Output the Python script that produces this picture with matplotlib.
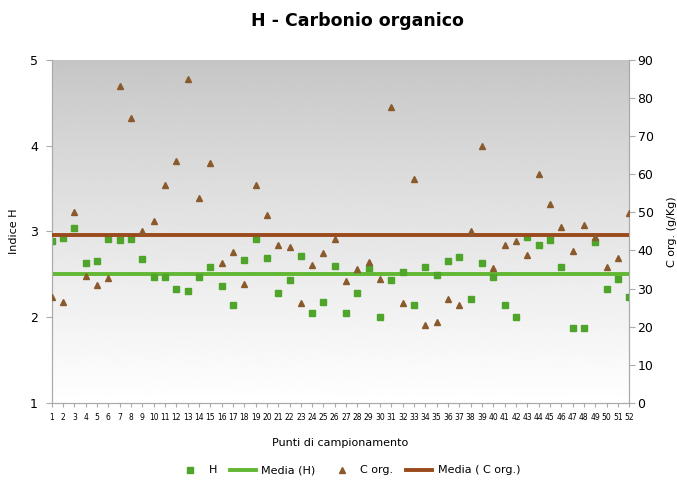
import numpy as np
import matplotlib
matplotlib.use("Agg")
import matplotlib.pyplot as plt

# sampling points 1..52
punti = list(range(1, 53))

indice_h = [2.89, 2.92, 3.04, 2.63, 2.65, 2.91, 2.90, 2.91, 2.68, 2.47,
            2.47, 2.33, 2.31, 2.47, 2.58, 2.36, 2.14, 2.67, 2.91, 2.69,
            2.28, 2.43, 2.71, 2.05, 2.18, 2.60, 2.05, 2.28, 2.57, 2.00,
            2.43, 2.53, 2.14, 2.58, 2.49, 2.66, 2.70, 2.21, 2.63, 2.47,
            2.14, 2.00, 2.93, 2.84, 2.90, 2.59, 1.87, 1.87, 2.88, 2.33,
            2.45, 2.24]

c_org = [27.7, 26.4, 50.2, 33.2, 30.9, 32.7, 83.2, 74.8, 45.0, 47.6,
         57.2, 63.5, 85.0, 53.7, 62.9, 36.8, 39.7, 31.3, 57.2, 49.2,
         41.5, 40.8, 26.3, 36.2, 39.4, 43.1, 31.9, 35.1, 36.9, 32.5,
         77.6, 26.2, 58.7, 20.5, 21.3, 27.2, 25.7, 45.0, 67.5, 35.3,
         41.5, 42.5, 38.7, 60.1, 52.2, 46.1, 39.9, 46.6, 43.4, 35.7,
         38.0, 49.8]

media_h = np.mean(indice_h)
media_c = np.mean(c_org)

sq_green = "#4ea52a"
line_green = "#62b832"
tri_brown = "#8a5a2c"
line_brown = "#9a4a1c"

fig = plt.figure(figsize=(6.77, 4.83), dpi=100)
ax = fig.add_axes([0.0764, 0.166, 0.853, 0.710])
ax2 = ax.twinx()

# gray-to-white gradient background
grad = np.linspace(0, 1, 256).reshape(-1, 1)
grad = 0.77 + 0.23 * grad ** 0.85
ax.imshow(grad, extent=[0, 1, 0, 1], transform=ax.transAxes, cmap="gray",
          vmin=0, vmax=1, aspect="auto", origin="upper", zorder=0)

ax.set_xlim(1, 52)
ax.set_ylim(1, 5)
ax2.set_ylim(0, 90)

h_pts, = ax.plot(punti, indice_h, "s", color=sq_green, markersize=4.8, zorder=4)
h_line = ax.axhline(media_h, color=line_green, linewidth=2.8, zorder=3)
c_pts, = ax2.plot(punti, c_org, "^", color=tri_brown, markersize=4.8, zorder=4)
c_line = ax2.axhline(media_c, color=line_brown, linewidth=2.8, zorder=3)

ax.set_xticks(punti)
ax.set_xticklabels([str(p) for p in punti], fontsize=5.5)
ax.set_yticks([1, 2, 3, 4, 5])
ax2.set_yticks(range(0, 91, 10))
ax.tick_params(axis="y", labelsize=9, length=4, color="#aaaaaa", pad=6)
ax2.tick_params(axis="y", labelsize=9, length=4, color="#aaaaaa", pad=2)
ax.tick_params(axis="x", length=3, color="#aaaaaa", pad=4)

for a in (ax, ax2):
    a.spines["top"].set_visible(False)
    for side in ("left", "right", "bottom"):
        a.spines[side].set_color("#aaaaaa")

ax.set_ylabel("Indice H", fontsize=8, labelpad=8)
ax2.set_ylabel("C org. (g/Kg)", fontsize=8, labelpad=10)
ax.set_xlabel("Punti di campionamento", fontsize=8, labelpad=12)
fig.suptitle("H - Carbonio organico", fontsize=12.5, fontweight="bold",
             x=0.528, y=0.975)

fig.legend([h_pts, h_line, c_pts, c_line],
           ["H", "Media (H)", "C org.", "Media ( C org.)"],
           loc="lower center", bbox_to_anchor=(0.515, -0.005), ncol=4,
           frameon=False, fontsize=8, handlelength=2.3, handletextpad=0.5,
           columnspacing=1.2)

fig.savefig("out.png", dpi=100)
